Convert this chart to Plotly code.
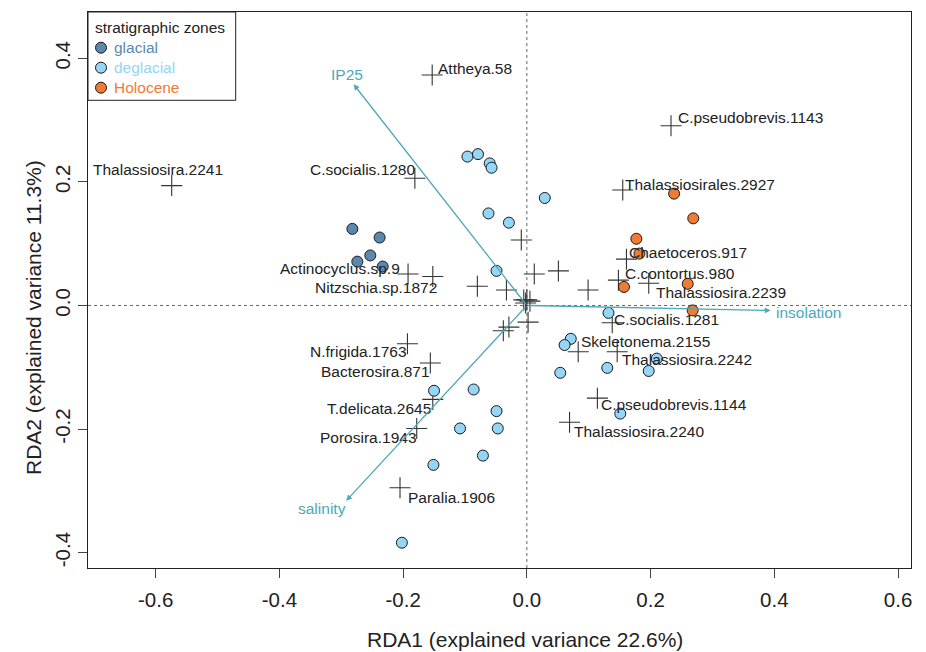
import plotly.graph_objects as go

# ---- data ----
glacial_x = [-0.282, -0.238, -0.253, -0.274, -0.233]
glacial_y = [0.124, 0.110, 0.081, 0.071, 0.063]

deglacial_x = [-0.096, -0.079, -0.060, -0.057, -0.062, -0.029, -0.049, 0.029, 0.132, 0.071, 0.061, 0.054,
               0.130, 0.210, 0.197, 0.151, -0.150, -0.086, -0.049, -0.108, -0.047, -0.071, -0.151, -0.202]
deglacial_y = [0.241, 0.245, 0.230, 0.223, 0.149, 0.134, 0.056, 0.174, -0.012, -0.054, -0.064, -0.109,
               -0.101, -0.086, -0.106, -0.175, -0.138, -0.136, -0.171, -0.199, -0.199, -0.243, -0.258, -0.384]

holocene_x = [0.238, 0.269, 0.177, 0.182, 0.157, 0.260, 0.268]
holocene_y = [0.181, 0.141, 0.108, 0.084, 0.030, 0.035, -0.008]

species_names = ["Attheya.58", "Thalassiosira.2241", "C.socialis.1280", "Actinocyclus.sp.9", "Nitzschia.sp.1872",
                 "C.pseudobrevis.1143", "Thalassiosirales.2927", "Chaetoceros.917", "C.contortus.980",
                 "Thalassiosira.2239", "C.socialis.1281", "Skeletonema.2155", "Thalassiosira.2242",
                 "C.pseudobrevis.1144", "Thalassiosira.2240", "N.frigida.1763", "Bacterosira.871",
                 "T.delicata.2645", "Porosira.1943", "Paralia.1906"]
species_x = [-0.153, -0.574, -0.181, -0.192, -0.152, 0.233, 0.155, 0.161, 0.148, 0.197, 0.138, 0.083, 0.146,
             0.114, 0.069, -0.193, -0.156, -0.152, -0.178, -0.205]
species_y = [0.373, 0.194, 0.206, 0.051, 0.047, 0.291, 0.187, 0.075, 0.041, 0.036, -0.028, -0.075, -0.075,
             -0.150, -0.189, -0.062, -0.093, -0.152, -0.199, -0.295]

other_species_x = [-0.009, 0.012, 0.051, -0.080, -0.033, 0.099, -0.005, 0.000, 0.005, -0.002, 0.002, -0.038, -0.029]
other_species_y = [0.106, 0.051, 0.056, 0.031, 0.025, 0.025, 0.009, 0.009, 0.007, 0.004, -0.027, -0.041, -0.035]

env_names = ["IP25", "insolation", "salinity"]
env_x = [-0.280, 0.394, -0.292]
env_y = [0.358, -0.008, -0.316]

zone_names = ["glacial", "deglacial", "Holocene"]
legend_title = "stratigraphic zones"

x_tickvals = [-0.6, -0.4, -0.2, 0.0, 0.2, 0.4, 0.6]
x_ticktext = ["-0.6", "-0.4", "-0.2", "0.0", "0.2", "0.4", "0.6"]
y_tickvals = [-0.4, -0.2, 0.0, 0.2, 0.4]
y_ticktext = ["-0.4", "-0.2", "0.0", "0.2", "0.4"]
x_title = "RDA1 (explained variance 22.6%)"
y_title = "RDA2 (explained variance 11.3%)"

# ---- styles ----
FONT = "Liberation Sans, Arial, Helvetica, sans-serif"
C_GLAC = "#5B88AD"
C_DEGL = "#95D5F5"
C_HOLO = "#F07B35"
zone_colors = [C_GLAC, C_DEGL, C_HOLO]
C_ENV = "#4BA9B8"
C_SPEC = "#333333"
C_TEXT = "#222222"
LBL_SIZE = 15.5
TICK_SIZE = 20.5
TITLE_SIZE = 21

# plot area in pixels
W, H = 926, 652
ML, MR, MT, MB = 88, 15, 12, 84
PW, PH = W - ML - MR, H - MT - MB

# label placement (xanchor, xshift px, yshift px)
species_label_pos = {
    "Attheya.58": ("left", 4, 7),
    "Thalassiosira.2241": ("center", -14, 16),
    "C.socialis.1280": ("right", 2, 9),
    "Actinocyclus.sp.9": ("right", -6, 5),
    "Nitzschia.sp.1872": ("right", 6, -11),
    "C.pseudobrevis.1143": ("left", 5, 8),
    "Thalassiosirales.2927": ("left", 0, 5),
    "Chaetoceros.917": ("left", 1, 7),
    "C.contortus.980": ("left", 5, 7),
    "Thalassiosira.2239": ("left", 5, -9),
    "C.socialis.1281": ("left", 0, 3),
    "Skeletonema.2155": ("left", 1, 10),
    "Thalassiosira.2242": ("left", 3, -8),
    "C.pseudobrevis.1144": ("left", 2, -6),
    "Thalassiosira.2240": ("left", 2, -9),
    "N.frigida.1763": ("right", 2, -8),
    "Bacterosira.871": ("right", 2, -9),
    "T.delicata.2645": ("right", 0, -9),
    "Porosira.1943": ("right", 2, -9),
    "Paralia.1906": ("left", 6, -10),
}
env_label_pos = {
    "IP25": ("center", -7, 10),
    "insolation": ("left", 3, -2),
    "salinity": ("center", -24, -8),
}

fig = go.Figure()

# species crosses
fig.add_trace(go.Scatter(
    x=species_x + other_species_x, y=species_y + other_species_y, mode="markers",
    marker=dict(symbol="cross-thin", size=15, line=dict(width=1.1, color=C_SPEC), color=C_SPEC),
    showlegend=False, hoverinfo="skip"))

# samples
for nm, xs, ys, col in zip(zone_names, [glacial_x, deglacial_x, holocene_x],
                           [glacial_y, deglacial_y, holocene_y], zone_colors):
    fig.add_trace(go.Scatter(
        x=xs, y=ys, mode="markers", name=nm, showlegend=False,
        marker=dict(symbol="circle", size=11, color=col, line=dict(width=1, color="#1a1a1a"))))

annotations = []
for nm, x, y in zip(species_names, species_x, species_y):
    xa, xs_, ys_ = species_label_pos[nm]
    annotations.append(dict(x=x, y=y, xref="x", yref="y", text=nm, showarrow=False,
                            xanchor=xa, yanchor="middle", xshift=xs_, yshift=ys_,
                            font=dict(size=LBL_SIZE, color=C_TEXT, family=FONT)))

for nm, x, y in zip(env_names, env_x, env_y):
    annotations.append(dict(x=x, y=y, xref="x", yref="y", ax=0, ay=0, axref="x", ayref="y",
                            showarrow=True, arrowhead=2, arrowsize=0.9, arrowwidth=1.3,
                            arrowcolor=C_ENV, text="", standoff=0, startstandoff=0))
    xa, xs_, ys_ = env_label_pos[nm]
    annotations.append(dict(x=x, y=y, xref="x", yref="y", text=nm, showarrow=False,
                            xanchor=xa, yanchor="middle", xshift=xs_, yshift=ys_,
                            font=dict(size=LBL_SIZE, color=C_ENV, family=FONT)))

# axis titles
annotations.append(dict(x=(525 - ML) / PW, y=0, xref="paper", yref="paper", text=x_title,
                        showarrow=False, xanchor="center", yanchor="middle",
                        yshift=-(639 - (H - MB)), font=dict(size=TITLE_SIZE, color=C_TEXT, family=FONT)))
annotations.append(dict(x=0, y=1 - (318 - MT) / PH, xref="paper", yref="paper", text=y_title,
                        showarrow=False, xanchor="center", yanchor="middle", textangle=-90,
                        xshift=-(ML - 33), font=dict(size=TITLE_SIZE, color=C_TEXT, family=FONT)))

shapes = [
    dict(type="line", xref="x", yref="paper", x0=0, x1=0, y0=0, y1=1,
         line=dict(color="#666666", width=1, dash="dot"), layer="below"),
    dict(type="line", xref="paper", yref="paper", x0=0, x1=1, y0=0, y1=0,
         line=dict(color="rgba(0,0,0,0)", width=0), layer="below"),
    dict(type="line", xref="paper", yref="y", x0=0, x1=1, y0=0, y1=0,
         line=dict(color="#666666", width=1, dash="dot"), layer="below"),
]

# manual legend (box, symbols, text) in top-left corner
LEG_W, LEG_H = 147.7, 88.3
shapes.append(dict(type="rect", xref="paper", yref="paper",
                   x0=0, x1=LEG_W / PW, y0=1 - LEG_H / PH, y1=1,
                   line=dict(color=C_TEXT, width=1), fillcolor="white", layer="above"))
annotations.append(dict(x=0, y=1, xref="paper", yref="paper", text=legend_title, showarrow=False,
                        xanchor="left", yanchor="middle", xshift=4.5, yshift=-(27.7 - MT),
                        font=dict(size=LBL_SIZE, color=C_TEXT, family=FONT)))
for i, (nm, col) in enumerate(zip(zone_names, zone_colors)):
    cy = 47.7 + 20 * i
    shapes.append(dict(type="circle", xref="paper", yref="paper", xsizemode="pixel", ysizemode="pixel",
                       xanchor=(101 - ML) / PW, yanchor=1 - (cy - MT) / PH,
                       x0=-5.5, x1=5.5, y0=-5.5, y1=5.5,
                       line=dict(color="#1a1a1a", width=1), fillcolor=col, layer="above"))
    annotations.append(dict(x=0, y=1, xref="paper", yref="paper", text=nm, showarrow=False,
                            xanchor="left", yanchor="middle", xshift=(112 - ML), yshift=-(cy - MT),
                            font=dict(size=LBL_SIZE, color=col, family=FONT)))

fig.update_layout(
    width=W, height=H, autosize=False,
    margin=dict(l=ML, r=MR, t=MT, b=MB),
    paper_bgcolor="white", plot_bgcolor="white",
    font=dict(family=FONT, color=C_TEXT),
    annotations=annotations, shapes=shapes, showlegend=False,
    xaxis=dict(range=[-0.7093, 0.6209], tickvals=x_tickvals, ticktext=x_ticktext,
               showgrid=False, zeroline=False, showline=True, mirror=True, linecolor=C_TEXT,
               linewidth=1, ticks="outside", ticklen=9, tickcolor="#444444", ticklabelstandoff=4,
               tickfont=dict(size=TICK_SIZE, color=C_TEXT)),
    yaxis=dict(range=[-0.4249, 0.4750], tickvals=y_tickvals, ticktext=y_ticktext,
               showgrid=False, zeroline=False, showline=True, mirror=True, linecolor=C_TEXT,
               linewidth=1, ticks="outside", ticklen=9, tickcolor="#444444", tickangle=-90,
               tickfont=dict(size=TICK_SIZE, color=C_TEXT)),
)

fig.write_html("out.html")
